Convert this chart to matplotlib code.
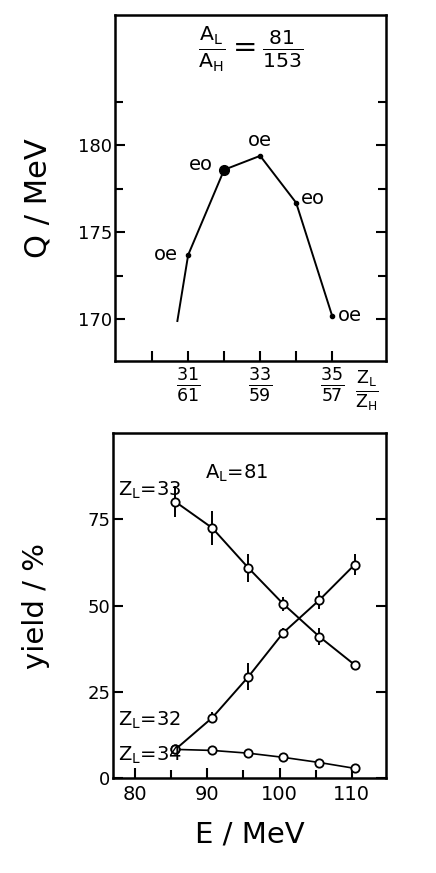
import matplotlib

matplotlib.use("Agg")
import matplotlib.pyplot as plt
import matplotlib.transforms as mtransforms

plt.rcParams["font.family"] = ["DejaVu Sans"]
plt.rcParams["mathtext.fontset"] = "dejavusans"

# top panel: Q value versus charge split Z_L / Z_H
z_light = [30.7, 31, 32, 33, 34, 35]
q_value = [169.9, 173.7, 178.6, 179.4, 176.7, 170.2]
parity = ["", "oe", "eo", "oe", "eo", "oe"]
z_tick_labels = {31: r"$\frac{31}{61}$", 33: r"$\frac{33}{59}$", 35: r"$\frac{35}{57}$"}

# bottom panel: yields versus excitation energy
energy = [85.6, 90.7, 95.7, 100.5, 105.5, 110.4]
yield_z33 = [80.1, 72.5, 60.9, 50.5, 41.0, 32.8]
err_z33 = [4.5, 5.0, 4.0, 2.0, 2.5, 1.0]
yield_z32 = [8.3, 17.5, 29.4, 42.1, 51.6, 61.9]
err_z32 = [0.0, 1.5, 4.0, 1.5, 2.5, 3.0]
yield_z34 = [8.3, 8.0, 7.2, 6.0, 4.5, 2.8]

fig = plt.figure(figsize=(4.36, 8.73), dpi=100)
ax_q = fig.add_axes([0.264, 0.5865, 0.6216, 0.3963])
ax_y = fig.add_axes([0.259, 0.1088, 0.626, 0.395])

for ax in (ax_q, ax_y):
    for s in ax.spines.values():
        s.set_linewidth(1.8)
    ax.tick_params(which="both", direction="in", width=1.5, length=7,
                   right=True, labelsize=13, pad=2)
    ax.tick_params(which="minor", length=6)

# ---- top panel
ax_q.plot(z_light, q_value, "-", color="black", lw=1.4)
ax_q.plot(z_light[1:], q_value[1:], "o", color="black", ms=3)
ax_q.plot(z_light[2], q_value[2], "o", color="black", ms=7)

offsets = {1: (-16, 0), 2: (-17, 4), 3: (0, 11), 4: (12, 3), 5: (13, 0)}
for i, lab in enumerate(parity):
    if not lab:
        continue
    ax_q.annotate(lab, (z_light[i], q_value[i]), textcoords="offset points",
                  xytext=offsets[i], ha="center", va="center", fontsize=14)

ax_q.set_xlim(28.97, 36.5)
ax_q.set_ylim(167.6, 187.5)
ax_q.set_yticks([170, 175, 180])
ax_q.set_yticks([172.5, 177.5, 182.5], minor=True)
ax_q.set_xticks(range(30, 36))
ax_q.set_xticklabels([z_tick_labels.get(z, "") for z in range(30, 36)], fontsize=18)
ax_q.tick_params(axis="x", which="both", right=False, pad=4)
ax_q.set_ylabel("Q / MeV", fontsize=22)
ax_q.yaxis.set_label_coords(-0.23, 0.47)

trans = mtransforms.blended_transform_factory(ax_q.transData, ax_q.transAxes)
ax_q.text(35.97, -0.025, r"$\frac{\mathrm{Z_L}}{\mathrm{Z_H}}$", transform=trans,
          ha="center", va="top", fontsize=18)
ax_q.text(0.5, 0.9, r"$\frac{\mathrm{A_L}}{\mathrm{A_H}}=\frac{81}{153}$",
          transform=ax_q.transAxes, ha="center", va="center", fontsize=21)

# ---- bottom panel
ax_y.errorbar(energy, yield_z33, yerr=err_z33, fmt="-o", color="black", lw=1.4,
              ms=6, mfc="white", mew=1.3, elinewidth=1.4, capsize=0)
ax_y.errorbar(energy, yield_z32, yerr=err_z32, fmt="-o", color="black", lw=1.4,
              ms=6, mfc="white", mew=1.3, elinewidth=1.4, capsize=0)
ax_y.plot(energy, yield_z34, "-o", color="black", lw=1.2, ms=6, mfc="white", mew=1.3)

ax_y.text(77.6, 83.3, r"Z$_\mathrm{L}$=33", ha="left", va="center", fontsize=14)
ax_y.text(77.6, 16.8, r"Z$_\mathrm{L}$=32", ha="left", va="center", fontsize=14)
ax_y.text(77.6, 6.7, r"Z$_\mathrm{L}$=34", ha="left", va="center", fontsize=14)
ax_y.text(94.0, 88.3, r"A$_\mathrm{L}$=81", ha="center", va="center", fontsize=14)

ax_y.set_xlim(76.96, 114.7)
ax_y.set_ylim(0, 100)
ax_y.set_xticks([80, 90, 100, 110])
ax_y.set_xticks([85, 95, 105], minor=True)
ax_y.set_yticks([0, 25, 50, 75])
ax_y.tick_params(axis="x", which="both", pad=5, labelsize=14)
ax_y.set_xlabel("E / MeV", fontsize=21, labelpad=12)
ax_y.set_ylabel("yield / %", fontsize=21)
ax_y.yaxis.set_label_coords(-0.23, 0.50)

fig.savefig("out.png", dpi=100)
